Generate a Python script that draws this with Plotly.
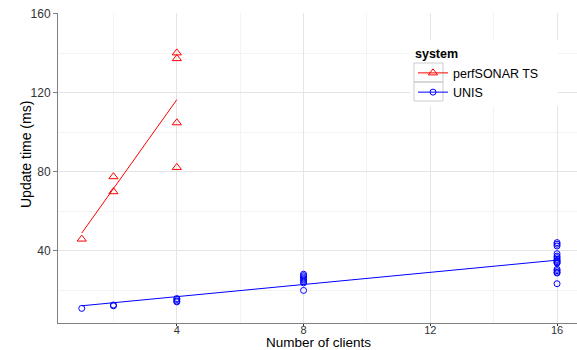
import numpy as np
import plotly.graph_objects as go

# perfSONAR TS
ps_clients = [1, 2, 2, 4, 4, 4, 4]
ps_time = [46.0, 77.6, 70.0, 140.3, 137.4, 104.9, 82.3]

# UNIS
unis_clients = [1, 2, 2, 4, 4, 4, 4] + [8] * 8 + [16] * 16
unis_time = [10.9, 12.2, 12.6, 14.2, 14.6, 15.4, 15.9,
             20.0, 23.8, 24.6, 25.3, 26.0, 26.8, 27.5, 28.2,
             23.4, 28.8, 29.2, 30.0, 30.7, 33.8, 34.1, 34.6,
             35.2, 35.8, 36.6, 37.4, 38.6, 42.5, 43.4, 44.2]

x_ticks = [4, 8, 12, 16]
y_ticks = [40, 80, 120, 160]

RED = "#FF0000"
BLUE = "#0000FF"
FONT = "Liberation Sans, Arial, Helvetica, sans-serif"

fig = go.Figure()

def add_series(xs, ys, color, symbol, size, name):
    xs = np.array(xs, dtype=float)
    ys = np.array(ys, dtype=float)
    slope, icpt = np.polyfit(xs, ys, 1)
    lx = np.array([xs.min(), xs.max()])
    fig.add_trace(go.Scatter(x=xs, y=ys, mode="markers", showlegend=False,
                             marker=dict(symbol=symbol, size=size, color=color,
                                         line=dict(width=1, color=color))))
    fig.add_trace(go.Scatter(x=lx, y=slope * lx + icpt, mode="lines", showlegend=False,
                             line=dict(color=color, width=1)))
    fig.add_trace(go.Scatter(x=[None], y=[None], mode="lines+markers", name=name,
                             line=dict(color=color, width=1),
                             marker=dict(symbol=symbol, size=size, color=color,
                                         line=dict(width=1, color=color))))

add_series(ps_clients, ps_time, RED, "triangle-up-open", 8, "perfSONAR TS")
add_series(unis_clients, unis_time, BLUE, "circle-open", 6, "UNIS")

W, H = 577, 350
ML, MR, MT, MB = 58, 0, 13, 27
pw, ph = W - ML - MR, H - MT - MB
def px(x):
    return (x - ML) / pw
def py(y):
    return 1 - (y - MT) / ph

shapes = [dict(type="rect", xref="paper", yref="paper",
               x0=px(410), x1=px(558), y0=py(106), y1=py(40),
               line=dict(width=0), fillcolor="white", layer="above")]
for (y0, y1) in [(63, 82), (82, 101)]:
    shapes.append(dict(type="rect", xref="paper", yref="paper",
                       x0=px(414), x1=px(443), y0=py(y1), y1=py(y0),
                       line=dict(color="#CCCCCC", width=1), fillcolor="rgba(0,0,0,0)",
                       layer="above"))

annotations = [
    dict(text="Number of clients", xref="paper", yref="paper",
         x=px(318), y=py(351), xanchor="center", yanchor="bottom", borderpad=0,
         showarrow=False, font=dict(size=13.5, color="black")),
    dict(text="Update time (ms)", xref="paper", yref="paper",
         x=px(26), y=py(155), xanchor="center", yanchor="middle", textangle=-90,
         showarrow=False, font=dict(size=14, color="black")),
]

fig.update_layout(
    width=W, height=H,
    margin=dict(l=ML, r=MR, t=MT, b=MB),
    paper_bgcolor="white", plot_bgcolor="white",
    font=dict(family=FONT, size=12, color="#222222"),
    shapes=shapes,
    annotations=annotations,
    legend=dict(
        title=dict(text="<b>system</b>", font=dict(size=12.5, color="black")),
        x=px(413), y=py(42), xanchor="left", yanchor="top",
        bgcolor="rgba(0,0,0,0)", borderwidth=0,
        font=dict(size=12.5, color="black"),
        itemwidth=30, tracegroupgap=0,
    ),
    xaxis=dict(
        automargin=False,
        range=[0.25, 16.63], tickvals=x_ticks, ticktext=[str(v) for v in x_ticks],
        showgrid=True, gridcolor="#E5E5E5", gridwidth=1,
        minor=dict(dtick=2, tick0=0, showgrid=True, gridcolor="#F3F3F3", gridwidth=1),
        zeroline=False, showline=True, linecolor="#808080", linewidth=1,
        ticks="outside", ticklen=2, tickcolor="#333333",
        ticklabelstandoff=-5,
        tickfont=dict(size=11, color="#333333"),
    ),
    yaxis=dict(
        automargin=False,
        range=[3.5, 160.5], tickvals=y_ticks, ticktext=[str(v) for v in y_ticks],
        showgrid=True, gridcolor="#E5E5E5", gridwidth=1,
        minor=dict(dtick=20, tick0=0, showgrid=True, gridcolor="#F3F3F3", gridwidth=1),
        zeroline=False, showline=True, linecolor="#808080", linewidth=1,
        ticks="outside", ticklen=4, tickcolor="#808080",
        tickfont=dict(size=12, color="#333333"),
    ),
)

fig.write_html("out.html", config={"displayModeBar": False},
               post_script="document.body.style.margin='0';")
